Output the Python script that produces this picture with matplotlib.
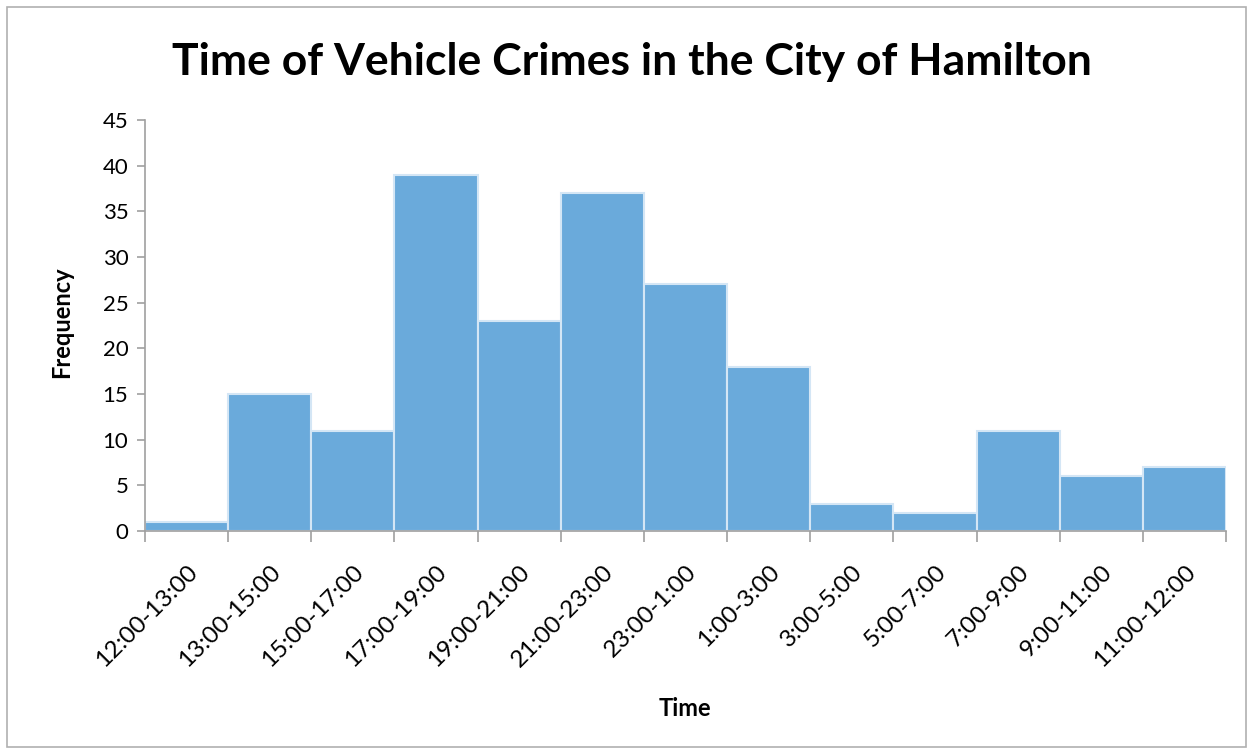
import matplotlib
matplotlib.use("Agg")
import matplotlib.pyplot as plt
import numpy as np
from matplotlib.patches import Rectangle

# time bins and crime counts
bins = ['12:00-13:00', '13:00-15:00', '15:00-17:00', '17:00-19:00', '19:00-21:00',
        '21:00-23:00', '23:00-1:00', '1:00-3:00', '3:00-5:00', '5:00-7:00',
        '7:00-9:00', '9:00-11:00', '11:00-12:00']
freq = [1, 15, 11, 39, 23, 37, 27, 18, 3, 2, 11, 6, 7]
yticks = [0, 5, 10, 15, 20, 25, 30, 35, 40, 45]

plt.rcParams['font.family'] = ['Lato', 'DejaVu Sans']

fig = plt.figure(figsize=(12.52, 7.5), dpi=100)
fig.patches.append(Rectangle((0.0056, 0.004), 0.99, 0.987, transform=fig.transFigure,
                             fill=False, edgecolor='#b0b0b0', linewidth=1.2))
ax = fig.add_axes([0.1158, 0.292, 0.8634, 0.548])

x = np.arange(len(freq))
ax.bar(x, freq, width=1.0, align='edge', color='#6aaadb', edgecolor='#d4e6f5', linewidth=1.5)

ax.set_xlim(0, len(freq))
ax.set_ylim(0, 45)
ax.set_yticks(yticks)
ax.tick_params(axis='y', labelsize=16, length=6, color='#a0a0a0', width=1.2, pad=6)

ax.set_xticks(np.arange(len(freq) + 1))
ax.set_xticklabels([])
ax.set_xticks(x + 0.5, minor=True)
ax.set_xticklabels(bins, minor=True, rotation=45, ha='right', rotation_mode='anchor', fontsize=17.5)
ax.tick_params(axis='x', which='major', length=8, color='#a0a0a0', width=1.2)
ax.tick_params(axis='x', which='minor', length=0, pad=22)

for s in ['top', 'right']:
    ax.spines[s].set_visible(False)
for s in ['left', 'bottom']:
    ax.spines[s].set_color('#a0a0a0')
    ax.spines[s].set_linewidth(1.2)

fig.text(0.505, 0.918, 'Time of Vehicle Crimes in the City of Hamilton', ha='center', va='center',
         fontsize=32, fontweight='bold')
fig.text(0.049, 0.57, 'Frequency', rotation=90, ha='center', va='center', fontsize=17, fontweight='bold')
fig.text(0.547, 0.055, 'Time', ha='center', va='center', fontsize=17, fontweight='bold')

fig.savefig('out.png', dpi=100)
